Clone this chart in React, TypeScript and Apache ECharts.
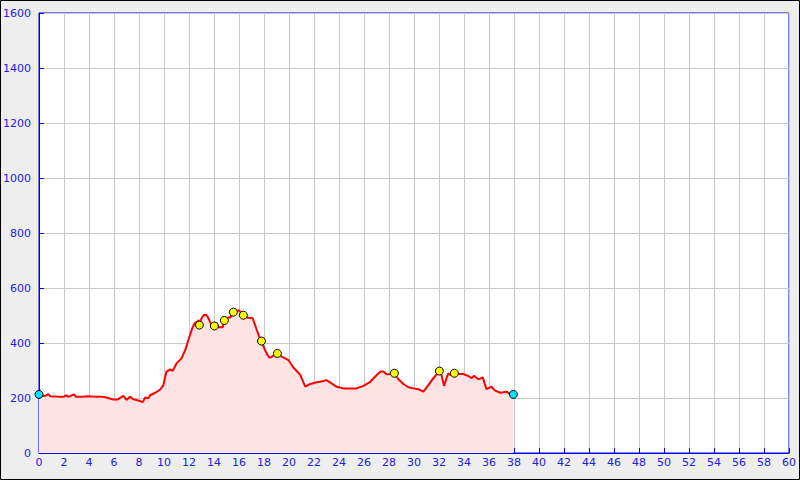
import React, { useEffect, useRef } from "react";
import * as echarts from "echarts";

const distances = [
  0, 0.3, 0.5, 0.75, 0.9, 1.5, 2.0, 2.2, 2.35, 2.8, 2.95, 3.5, 3.9, 4.5, 5.0, 5.3, 5.9, 6.3, 6.75, 7.0,
  7.3, 7.5, 8.0, 8.3, 8.5, 8.75, 8.9, 9.3, 9.7, 9.95, 10.1, 10.2, 10.5, 10.7, 11.0, 11.4, 11.7, 11.95,
  12.3, 12.5, 12.7, 12.75, 12.83, 13.0, 13.2, 13.4, 13.6, 13.8, 14.03, 14.2, 14.35, 14.7, 14.83, 15.15,
  15.3, 15.55, 15.8, 16.0, 16.35, 16.6, 17.1, 17.4, 17.6, 17.8, 18.1, 18.4, 18.5, 19.07, 19.3, 19.95,
  20.35, 20.9, 21.3, 21.7, 22.1, 22.5, 23.0, 23.4, 23.8, 24.35, 24.9, 25.4, 25.95, 26.5, 26.9, 27.3,
  27.55, 27.8, 28.1, 28.43, 28.75, 29.15, 29.55, 29.95, 30.35, 30.75, 31.15, 31.55, 32.03, 32.2, 32.4,
  32.6, 32.75, 32.9, 33.23, 33.55, 33.95, 34.35, 34.6, 34.8, 35.15, 35.5, 35.8, 36.2, 36.5, 36.9, 37.4,
  37.6, 37.95,
];
const elevations = [
  213, 207, 208, 214, 206, 205, 205, 210, 204, 213, 205, 205, 206, 205, 205, 203, 195, 195, 208, 193,
  205, 196, 190, 185, 202, 199, 211, 219, 231, 247, 278, 296, 304, 299, 326, 344, 375, 411,
  459, 474, 478, 484, 465, 490, 502, 502, 486, 465, 462, 474, 457, 457, 482, 493,
  493, 512, 518, 518, 501, 493, 490, 450, 425, 407, 372, 348, 347, 362, 353, 338,
  311, 284, 241, 251, 256, 259, 265, 253, 241, 235, 235, 235, 244, 259, 278, 296,
  296, 286, 287, 290, 268, 251, 239, 235, 232, 223, 247, 272, 298, 284, 244,
  272, 290, 284, 290, 287, 287, 280, 272, 281, 268, 275, 232, 241, 227, 219, 223,
  217, 213,
];
const waypointDist = [12.83, 14.03, 14.83, 15.55, 16.35, 17.8, 19.07, 28.43, 32.03, 33.23];
const waypointElev = [465, 462, 482, 512, 501, 407, 362, 290, 298, 290];
const endpointDist = [0, 37.95];
const endpointElev = [213, 213];

export default function App() {
  const ref = useRef<HTMLDivElement>(null);
  useEffect(() => {
    if (!ref.current) return;
    const chart = echarts.init(ref.current, null, { renderer: "svg" });
    const labelColor = "#2020e0";
    const axisColor = "#0000ff";
    chart.setOption({
      animation: false,
      backgroundColor: "#eeeeee",
      textStyle: { fontFamily: "DejaVu Sans" },
      graphic: [
        {
          type: "rect",
          shape: { x: 0.5, y: 0.5, width: 799, height: 479 },
          style: { fill: "none", stroke: "#000", lineWidth: 1 },
          silent: true,
        },
      ],
      grid: {
        left: 39,
        right: 11,
        top: 13,
        bottom: 27,
        show: true,
        backgroundColor: "#ffffff",
        borderColor: axisColor,
        borderWidth: 1,
      },
      xAxis: {
        type: "value",
        min: 0,
        max: 60,
        interval: 2,
        axisLine: { show: true, lineStyle: { color: axisColor, width: 1 } },
        axisTick: { show: true, inside: true, length: 5, lineStyle: { color: axisColor } },
        axisLabel: { color: labelColor, fontSize: 11, margin: 4, fontFamily: "DejaVu Sans", formatter: (v: number) => String(v) },
        splitLine: { show: true, lineStyle: { color: "#c8c8c8", width: 1 } },
      },
      yAxis: {
        type: "value",
        min: 0,
        max: 1600,
        interval: 200,
        axisLine: { show: true, lineStyle: { color: axisColor, width: 1 } },
        axisTick: { show: true, inside: true, length: 5, lineStyle: { color: axisColor } },
        axisLabel: { color: labelColor, fontSize: 11, margin: 8, fontFamily: "DejaVu Sans", formatter: (v: number) => String(v) },
        splitLine: { show: true, lineStyle: { color: "#c8c8c8", width: 1 } },
      },
      series: [
        {
          type: "line",
          data: distances.map((d, i) => [d, elevations[i]]),
          showSymbol: false,
          symbol: "none",
          lineStyle: { color: "#ff0000", width: 2 },
          areaStyle: { color: "#fde3e3", opacity: 1 },
          z: 2,
        },
        {
          type: "scatter",
          data: waypointDist.map((d, i) => [d, waypointElev[i]]),
          symbol: "circle",
          symbolSize: 8,
          itemStyle: { color: "#ffff00", borderColor: "#000", borderWidth: 1, opacity: 1 },
          z: 3,
        },
        {
          type: "scatter",
          data: endpointDist.map((d, i) => [d, endpointElev[i]]),
          symbol: "circle",
          symbolSize: 8,
          itemStyle: { color: "#00e5ff", borderColor: "#000", borderWidth: 1, opacity: 1 },
          z: 3,
        },
      ],
    });
    return () => chart.dispose();
  }, []);
  return (
    <div
      ref={ref}
      style={{ position: "fixed", left: 0, top: 0, width: 800, height: 480 }}
    />
  );
}
